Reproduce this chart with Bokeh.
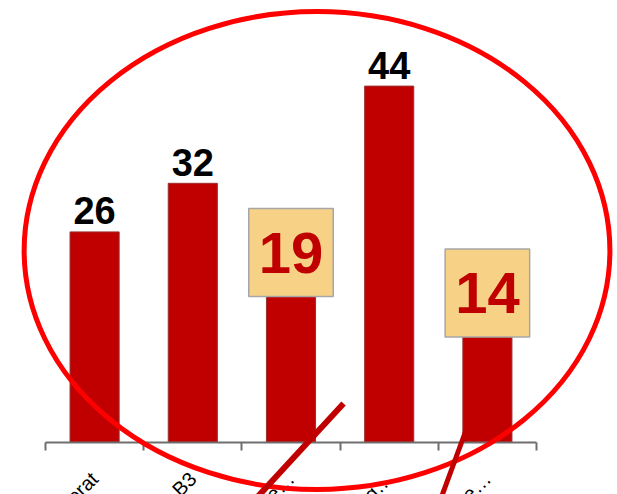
from math import pi
from bokeh.plotting import figure
from bokeh.models import Range1d, FixedTicker, ColumnDataSource
from bokeh.core.properties import value
from bokeh.embed import file_html
from bokeh.resources import INLINE

# ---- data ----
categories = ["Referat", "Gruppe B3", "Sonstige…", "Leitung…", "Andere…"]
values = [26, 32, 19, 44, 14]
highlighted = [False, False, True, False, True]

positions = list(range(1, len(categories) + 1))
boundaries = [p - 0.5 for p in positions] + [positions[-1] + 0.5]

plain = ColumnDataSource(dict(
    x=[x for x, h in zip(positions, highlighted) if not h],
    y=[v for v, h in zip(values, highlighted) if not h],
    t=[str(v) for v, h in zip(values, highlighted) if not h],
))
boxed = ColumnDataSource(dict(
    x=[x for x, h in zip(positions, highlighted) if h],
    y=[v for v, h in zip(values, highlighted) if h],
    t=[str(v) for v, h in zip(values, highlighted) if h],
))

# annotation shapes (data coordinates)
ellipse_center = (3.265, 23.7)
ellipse_size = (5.965, 59.0)
slash_a = ([3.535, 2.588], [4.81, -7.65])
slash_b = ([4.80, 4.50], [2.1, -7.8])

FONT = "Liberation Sans"

p = figure(width=617, height=494, output_backend="svg", toolbar_location=None,
           x_range=Range1d(0.0418, 6.3248), y_range=Range1d(-6.42, 54.57),
           y_axis_location=None, min_border=0, min_border_left=0,
           min_border_right=0, min_border_top=0, min_border_bottom=0)
p.outline_line_color = None
p.grid.visible = False
p.background_fill_color = "white"
p.border_fill_color = "white"

p.vbar(x=positions, top=values, width=0.5, bottom=0,
       fill_color="#C00000", line_color="#9a3030", line_width=1)

p.text(x="x", y="y", text="t", source=plain, y_offset=-21,
       text_align="center", text_baseline="middle",
       text_font=value(FONT), text_font_style="bold",
       text_font_size="38px", text_color="black")

p.text(x="x", y="y", text="t", source=boxed, y_offset=-36,
       text_align="center", text_baseline="middle",
       text_font=value(FONT), text_font_style="bold",
       text_font_size="58px", text_color="#C00000",
       background_fill_color="#F7D286", border_line_color="#A6A6A6",
       border_line_width=1.5,
       padding=dict(left=10, right=10, top=24, bottom=24))

ax = p.xaxis[0]
ax.fixed_location = 0
ax.bounds = (boundaries[0], boundaries[-1])
ax.ticker = FixedTicker(ticks=positions, minor_ticks=boundaries)
ax.major_label_overrides = {x: c for x, c in zip(positions, categories)}
ax.major_tick_out = 0
ax.major_tick_in = 0
ax.minor_tick_out = 8
ax.minor_tick_in = 0
ax.minor_tick_line_color = "#6e6e6e"
ax.minor_tick_line_width = 2
ax.axis_line_color = "#6e6e6e"
ax.axis_line_width = 2
ax.major_label_orientation = pi / 4
ax.major_label_standoff = 25
ax.major_label_text_font = FONT
ax.major_label_text_font_size = "20px"
ax.major_label_text_color = "black"

r = p.ellipse(x=ellipse_center[0], y=ellipse_center[1],
              width=ellipse_size[0], height=ellipse_size[1],
              fill_color=None, line_color="#FF0000", line_width=5)
r.level = "overlay"
r1 = p.line(x=slash_a[0], y=slash_a[1], line_color="#C00000", line_width=6)
r1.level = "overlay"
r2 = p.line(x=slash_b[0], y=slash_b[1], line_color="#C00000", line_width=5)
r2.level = "overlay"

open("out.html", "w").write(file_html(p, INLINE))
